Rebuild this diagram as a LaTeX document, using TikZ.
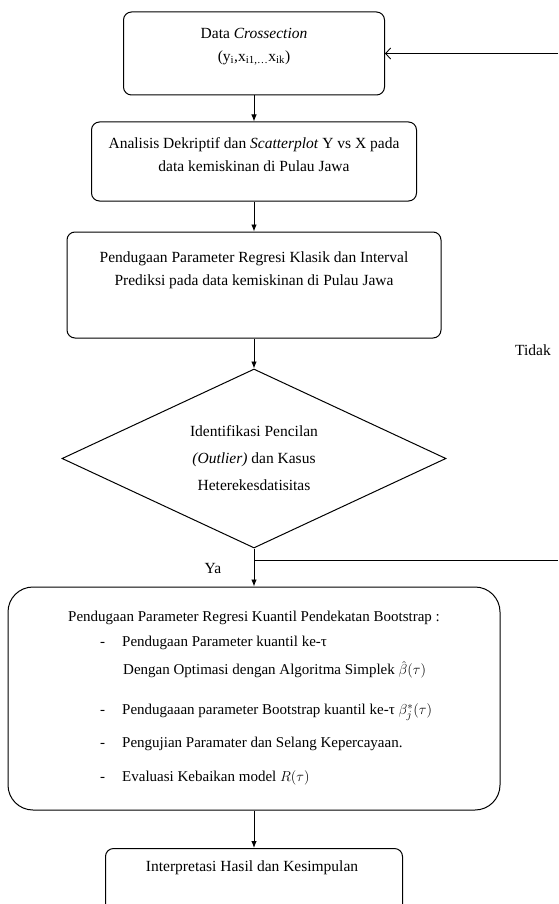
\documentclass[tikz,border=0pt]{standalone}
\usepackage{fontspec}
\setmainfont{Liberation Serif}
\usetikzlibrary{shapes.geometric,arrows.meta}

\begin{document}
\begin{tikzpicture}[x=1pt, y=-1pt,
  font=\fontsize{15.5}{23}\selectfont,
  flowbox/.style={draw, rounded corners=8pt, line width=1pt, align=center, inner sep=0pt},
  decision/.style={draw, diamond, aspect=2.15, line width=1pt, align=center, inner sep=0pt,
    minimum width=384pt, minimum height=179pt},
  flow/.style={-{Latex[length=7pt,width=5.5pt]}, line width=0.9pt},
  back/.style={-{Straight Barb[length=5pt,width=11pt]}, line width=0.9pt},
  tag/.style={inner sep=0pt}
]
\useasboundingbox (0,0) rectangle (558,904);
\clip (0,0) rectangle (558,904);

% Top row - data and first two steps
\node[flowbox, minimum width=261pt, minimum height=83pt, text depth=18pt] (data) at (254,53.5) {
  Data \textit{Crossection}\\
  (y\textsubscript{i},x\textsubscript{i1,\dots}x\textsubscript{ik})
};

\node[flowbox, minimum width=325pt, minimum height=79pt, text depth=14pt] (descr) at (254,161.5) {
  Analisis Dekriptif dan \textit{Scatterplot} Y vs X pada\\
  data kemiskinan di Pulau Jawa
};

\node[flowbox, minimum width=374pt, minimum height=106pt, text depth=33pt] (classic) at (254,285) {
  Pendugaan Parameter Regresi Klasik dan Interval\\
  Prediksi pada data kemiskinan di Pulau Jawa
};

% Decision
\node[decision] (test) at (254,458.5) {
  Identifikasi Pencilan\\[4pt]
  \textit{(Outlier)} dan Kasus\\[4pt]
  Heterekesdatisitas
};

% Bottom - bootstrap quantile regression
\node[flowbox, rounded corners=25pt, align=left, minimum width=492pt, minimum height=223pt,
  font=\fontsize{15}{25}\selectfont] (bootstrap) at (254,698.5) {
  Pendugaan Parameter Regresi Kuantil Pendekatan Bootstrap :\\
  \hspace*{32pt}-\hspace{17pt}Pendugaan Parameter kuantil ke-τ\\[3pt]
  \hspace*{55pt}Dengan Optimasi dengan Algoritma Simplek $\hat{\beta}(\tau)$\\[15pt]
  \hspace*{32pt}-\hspace{17pt}Pendugaaan parameter Bootstrap kuantil ke-τ $\beta^{*}_{j}(\tau)$\\[8pt]
  \hspace*{32pt}-\hspace{17pt}Pengujian Paramater dan Selang Kepercayaan.\\[9pt]
  \hspace*{32pt}-\hspace{17pt}Evaluasi Kebaikan model $R(\tau)$
};

\node[flowbox, anchor=north, minimum width=297pt, minimum height=72pt, text depth=36pt] (result) at (254,848) {
  Interpretasi Hasil dan Kesimpulan
};

% Connectors
\coordinate (split) at (254,560);
\coordinate (rightlow) at (558,560);
\coordinate (righttop) at (558,53.5);

\draw[flow] (data) -- (descr);
\draw[flow] (descr) -- (classic);
\draw[flow] (classic) -- (test);
\draw[flow] (test) -- (bootstrap);
\draw[flow] (bootstrap) -- (result);
\draw[line width=0.9pt] (split) -- (rightlow);
\draw[back] (righttop) -- (data);

\node[tag] (yes) at (213,568) {Ya};
\node[tag] (no) at (533,350) {Tidak};

\end{tikzpicture}
\end{document}
